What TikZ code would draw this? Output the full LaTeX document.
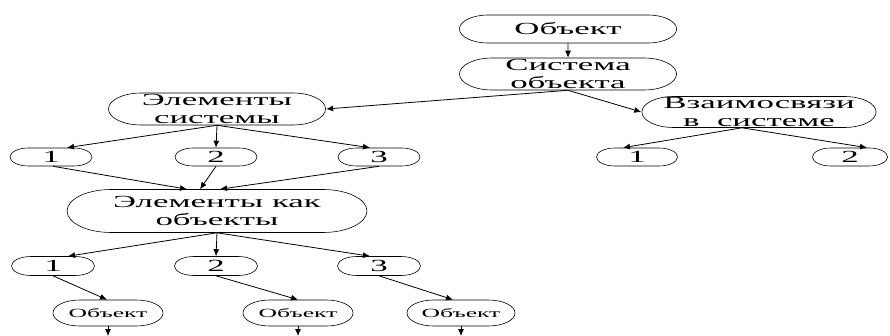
\documentclass[tikz,border=0pt]{standalone}
\usepackage{fontspec}
\setmainfont{Liberation Serif}
\usetikzlibrary{arrows.meta}
\usetikzlibrary{calc}
\usetikzlibrary{shapes.misc}
\usetikzlibrary{positioning}

\tikzset{
	pill/.style={rounded rectangle, draw, inner sep=0pt, align=center, xscale=2.05,
		line width=0.6pt, font=\fontsize{17}{18}\selectfont},
	smallpill/.style={font=\fontsize{12.5}{13}\selectfont}
}

\begin{document}
\begin{tikzpicture}[x=1pt, y=-1pt, line width=0.8pt]
	\useasboundingbox (0,0) rectangle (890,336);
	\begin{scope}[every node/.style={pill}]
		\node[minimum width=105.9pt, minimum height=28pt] (obj) at (568,29) {Объект};
		\node[minimum width=105.9pt, minimum height=32pt] (sys) at (568,74) {Система\\объекта};
		\node[minimum width=105.9pt, minimum height=32pt] (elsys) at (217,109) {Элементы\\системы};
		\node[minimum width=108.3pt, minimum height=31pt] (links) at (759,112) {Взаимосвязи\\в\ \ системе};
		\node[minimum width=40pt, minimum height=18pt] (r1a) at (51,157) {1};
		\node[minimum width=40pt, minimum height=18pt] (r1b) at (216,157) {2};
		\node[minimum width=40pt, minimum height=18pt] (r1c) at (379,157) {3};
		\node[minimum width=39.5pt, minimum height=18pt] (l1) at (637,157) {1};
		\node[minimum width=36.6pt, minimum height=18pt] (l2) at (850,157) {2};
		\node[minimum width=146.3pt, minimum height=43pt] (elobj) at (217,211) {Элементы как\\объекты};
		\node[minimum width=40.5pt, minimum height=19pt] (r3a) at (53,266) {1};
		\node[minimum width=40.5pt, minimum height=19pt] (r3b) at (216,266) {2};
		\node[minimum width=40.5pt, minimum height=19pt] (r3c) at (379,266) {3};
		\node[smallpill, minimum width=53.7pt, minimum height=26pt] (o1) at (108,313) {Объект};
		\node[smallpill, minimum width=53.7pt, minimum height=26pt] (o2) at (298,313) {Объект};
		\node[smallpill, minimum width=52.7pt, minimum height=26pt] (o3) at (461,313) {Объект};
	\end{scope}

	\coordinate (e1) at (108,336);
	\coordinate (e2) at (298,336);
	\coordinate (e3) at (461,336);

	\begin{scope}[>={Latex[length=7pt,width=6pt]},
	              every edge/.style={draw=black, ->}]
		\path (obj) edge (sys);
		\path (sys.south) edge (elsys.east);
		\path (sys.south) edge (links.west);
		\path ($(links.south)+(-17,0)$) edge ($(l1.north)+(-14,0)$);
		\path ($(links.south)+(-17,0)$) edge ($(l2.north)+(17,0)$);
		\path (elsys.south) edge ($(r1a.north)+(16,0)$);
		\path (elsys.south) edge (r1b.north);
		\path (elsys.south) edge ($(r1c.north)+(-9,0)$);
		\path ($(r1a.south)+(2,0)$) edge ($(elobj.north)+(-30,0)$);
		\path (r1b.south) edge ($(elobj.north)+(-17,0)$);
		\path (r1c.south) edge ($(elobj.north)+(3,0)$);
		\path (elobj.south) edge ($(r3a.north)+(15,0)$);
		\path (elobj.south) edge (r3b.north);
		\path (elobj.south) edge ($(r3c.north)+(-9,0)$);
		\path (r3a.south) edge ($(o1.north)+(-1,0)$);
		\path (r3b.south) edge (o2.north);
		\path (r3c.south) edge ($(o3.north)+(-8,0)$);
		\foreach \i in {1,2,3}
		{\path (o\i.south) edge (e\i);}
	\end{scope}
\end{tikzpicture}
\end{document}
